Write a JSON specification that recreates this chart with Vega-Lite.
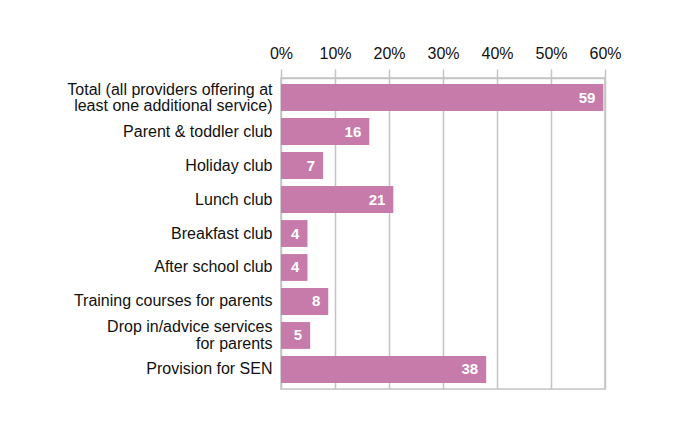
{
  "$schema": "https://vega.github.io/schema/vega-lite/v6.json",
  "autosize": {"type": "none"},
  "padding": {"left": 281, "top": 78, "right": 69, "bottom": 36},
  "width": 324,
  "height": 311,
  "background": "white",
  "config": {
    "font": "Liberation Sans",
    "view": {"stroke": "#c4c4c4", "strokeWidth": 1.5}
  },
  "data": {
    "values": [
      {"service": "Total (all providers offering at|least one additional service)", "pct": 59.7, "label": "59"},
      {"service": "Parent & toddler club", "pct": 16.35, "label": "16"},
      {"service": "Holiday club", "pct": 7.8, "label": "7"},
      {"service": "Lunch club", "pct": 20.8, "label": "21"},
      {"service": "Breakfast club", "pct": 4.9, "label": "4"},
      {"service": "After school club", "pct": 4.9, "label": "4"},
      {"service": "Training courses for parents", "pct": 8.75, "label": "8"},
      {"service": "Drop in/advice services|for parents", "pct": 5.4, "label": "5"},
      {"service": "Provision for SEN", "pct": 38, "label": "38"}
    ]
  },
  "encoding": {
    "y": {
      "field": "service",
      "type": "nominal",
      "sort": null,
      "scale": {"paddingInner": 0.21, "paddingOuter": 0.18},
      "axis": {
        "title": null,
        "ticks": false,
        "domain": false,
        "labelPadding": 9,
        "labelFontSize": 16,
        "labelColor": "#111111",
        "labelLineHeight": 16.5,
        "labelLimit": 300,
        "labelOffset": {"condition": {"test": "indexof(datum.value, '|') >= 0", "value": -8}, "value": 0},
        "labelExpr": "split(datum.label, '|')"
      }
    },
    "x": {
      "field": "pct",
      "type": "quantitative",
      "scale": {"domain": [0, 60], "nice": false},
      "axis": {
        "orient": "top",
        "title": null,
        "values": [0, 10, 20, 30, 40, 50, 60],
        "labelExpr": "datum.value + '%'",
        "labelFontSize": 16,
        "labelColor": "#111111",
        "labelPadding": 8,
        "labelFlush": false,
        "tickSize": 9,
        "tickColor": "#c4c4c4",
        "tickWidth": 1.5,
        "domainColor": "#c4c4c4",
        "domainWidth": 1.5,
        "grid": true,
        "gridColor": "#c4c4c4",
        "gridWidth": 1.5
      }
    }
  },
  "layer": [
    {"mark": {"type": "bar", "color": "#c67bab"}},
    {
      "mark": {
        "type": "text",
        "align": "right",
        "baseline": "middle",
        "dx": -8,
        "color": "white",
        "fontWeight": "bold",
        "fontSize": 15
      },
      "encoding": {"text": {"field": "label", "type": "nominal"}}
    }
  ]
}
